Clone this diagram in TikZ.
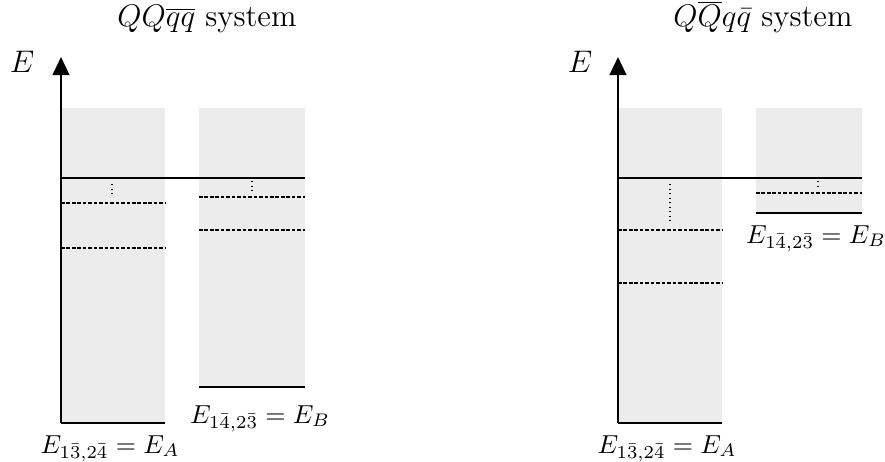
\documentclass[tikz,border=0pt]{standalone}
\usetikzlibrary{arrows.meta}
\definecolor{boxgray}{RGB}{236,236,236}
\tikzset{
  band/.style={fill=boxgray, draw=none},
  level/.style={line width=0.8pt},
  excited/.style={line width=0.6pt, dash pattern=on 1.4pt off 0.7pt},
  gap/.style={line width=0.45pt, dash pattern=on 0.45pt off 1.3pt},
  axis/.style={line width=0.8pt, -{Triangle[length=7pt,width=6.5pt]}},
  lab/.style={inner sep=0pt, anchor=base},
}
\begin{document}
\begin{tikzpicture}[x=0.3846pt, y=-0.3846pt]
\useasboundingbox (0,0) rectangle (885,462);
% ---------- left panel ----------
\fill[band] (61,108) rectangle (165,423);
\fill[band] (199,108) rectangle (305,387);
\coordinate (lax0) at (61,423);
\coordinate (lax1) at (61,57);
\draw[axis] (lax0) -- (lax1);
\draw[level] (61,178) -- (305,178);
\draw[level] (61,423) -- (165,423);
\draw[level] (199,387) -- (305,387);
\draw[excited] (61,203) -- (165,203);
\draw[excited] (61,248) -- (165,248);
\draw[excited] (199,197) -- (305,197);
\draw[excited] (199,230) -- (305,230);
\draw[gap] (112,184) -- (112,196);
\draw[gap] (252,181) -- (252,193);
\node[lab] (ltitle) at (207,27) {\large $QQ\overline{qq}$ system};
\node[lab] (lE) at (22,72) {\large $E$};
\node[lab] (lEA) at (110,453) {$E_{1\bar{3},2\bar{4}}=E_A$};
\node[lab] (lEB) at (260,423) {$E_{1\bar{4},2\bar{3}}=E_B$};
% ---------- right panel ----------
\fill[band] (618,108) rectangle (722,423);
\fill[band] (756,108) rectangle (862,213);
\coordinate (rax0) at (618,423);
\coordinate (rax1) at (618,57);
\draw[axis] (rax0) -- (rax1);
\draw[level] (618,178) -- (862,178);
\draw[level] (618,423) -- (722,423);
\draw[level] (756,213) -- (862,213);
\draw[excited] (618,230) -- (722,230);
\draw[excited] (618,283) -- (722,283);
\draw[excited] (756,193) -- (862,193);
\draw[gap] (670,184) -- (670,221);
\draw[gap] (818,181) -- (818,190);
\node[lab] (rtitle) at (763,27) {\large $Q\overline{Q}q\bar{q}$ system};
\node[lab] (rE) at (580,72) {\large $E$};
\node[lab] (rEA) at (667,453) {$E_{1\bar{3},2\bar{4}}=E_A$};
\node[lab] (rEB) at (816,243) {$E_{1\bar{4},2\bar{3}}=E_B$};
\end{tikzpicture}
\end{document}
